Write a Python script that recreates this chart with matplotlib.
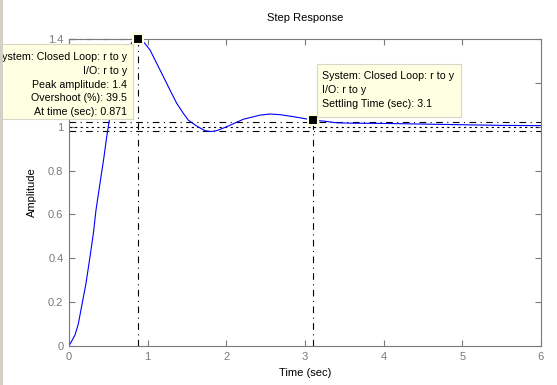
import numpy as np
import matplotlib
matplotlib.use("Agg")
import matplotlib.pyplot as plt
from matplotlib.patches import Rectangle

plt.rcParams['font.family'] = ['Liberation Sans', 'DejaVu Sans']

# step response
t = [0, 0.076, 0.118, 0.16, 0.216, 0.267, 0.31, 0.343, 0.394, 0.445, 0.479, 0.513,
     0.6, 0.7, 0.8, 0.871, 0.945, 1.03, 1.115, 1.2, 1.284, 1.369, 1.453, 1.517,
     1.623, 1.729, 1.8, 1.877, 2.005, 2.216, 2.43, 2.555, 2.68, 2.85, 3.04, 3.1,
     3.25, 3.4, 3.6, 4.0, 4.5, 5.0, 5.5, 6.0]
y = [0, 0.05, 0.10, 0.18, 0.286, 0.407, 0.514, 0.62, 0.742, 0.863, 0.954, 1.03,
     1.18, 1.31, 1.385, 1.40, 1.388, 1.35, 1.289, 1.228, 1.167, 1.107, 1.061, 1.03,
     1.003, 0.982, 0.978, 0.982, 1.0, 1.034, 1.053, 1.058, 1.055, 1.046, 1.034, 1.03,
     1.025, 1.018, 1.016, 1.015, 1.012, 1.009, 1.006, 1.005]

peak_time = 0.871
peak_amp = 1.4
overshoot = 39.5
settle_time = 3.1
settle_amp = 1.03
final_value = 1.0
band = 0.02

xticks = [0, 1, 2, 3, 4, 5, 6]
yticks = [0, 0.2, 0.4, 0.6, 0.8, 1, 1.2, 1.4]
ytick_labels = ['0', '0.2', '0.4', '0.6', '0.8', '1', '1.2', '1.4']

W, H = 557, 385
fig = plt.figure(figsize=(W / 100, H / 100), dpi=100)
ax = fig.add_axes([69 / W, 1 - 346 / H, (541 - 69) / W, (346 - 39) / H])

gray = '#7a7a7a'
ax.set_xlim(0, 6)
ax.set_ylim(0, 1.4)
ax.set_xticks(xticks)
ax.set_yticks(yticks)
ax.set_yticklabels(ytick_labels)
ax.tick_params(direction='in', length=4, width=0.8, colors=gray, labelsize=8,
               top=True, right=True, labelcolor=gray, pad=4)
for s in ax.spines.values():
    s.set_color(gray)
    s.set_linewidth(0.8)

# settling band and final value
ax.axhline(final_value, color='k', lw=0.8, ls=(0, (2, 3)))
ax.axhline(final_value + band, color='k', lw=0.8, ls=(0, (6, 4, 1, 4)))
ax.axhline(final_value - band, color='k', lw=0.8, ls=(0, (6, 4, 1, 4)))

# peak and settling guide lines
ax.plot([peak_time, peak_time], [0, peak_amp], color='k', lw=0.8, ls=(0, (6, 4, 1, 4)), clip_on=False)
ax.plot([0, peak_time], [peak_amp, peak_amp], color='k', lw=0.8, ls=(0, (6, 4, 1, 4)), clip_on=False)
ax.plot([settle_time, settle_time], [0, settle_amp], color='k', lw=0.8, ls=(0, (6, 4, 1, 4)))

ax.plot(t, y, color='#0000ff', lw=0.8)

ax.plot([peak_time], [peak_amp], 's', color='k', ms=7, mec='#ffffe1', mew=1.5, clip_on=False, zorder=5)
ax.plot([settle_time], [settle_amp], 's', color='k', ms=7, mec='#ffffe1', mew=1.5, zorder=5)

ax.set_title('Step Response', fontsize=8, pad=13)
ax.set_xlabel('Time (sec)', fontsize=8, labelpad=5)
ax.set_ylabel('Amplitude', fontsize=8, labelpad=8)

# data tips
def box(x0, y0, x1, y1):
    fig.add_artist(Rectangle((x0 / W, 1 - y1 / H), (x1 - x0) / W, (y1 - y0) / H,
                             transform=fig.transFigure, facecolor='#ffffe1',
                             edgecolor='#d8d8c8', lw=0.8, zorder=10))

box(-5, 44, 133, 119)
peak_lines = ['System: Closed Loop: r to y', 'I/O: r to y',
              'Peak amplitude: %g' % peak_amp, 'Overshoot (%%): %g' % overshoot,
              'At time (sec): %g' % peak_time]
for i, s in enumerate(peak_lines):
    fig.text(127 / W, 1 - (57 + 13.8 * i) / H, s, ha='right', va='center',
             fontsize=7.7, zorder=11)

box(317, 64, 461, 117)
settle_lines = ['System: Closed Loop: r to y', 'I/O: r to y',
                'Settling Time (sec): %g' % settle_time]
for i, s in enumerate(settle_lines):
    fig.text(322 / W, 1 - (76 + 14 * i) / H, s, ha='left', va='center',
             fontsize=7.7, zorder=11)

# grey window edge on the left
fig.add_artist(Rectangle((0, 0), 3 / W, 1, transform=fig.transFigure,
                         facecolor='#d4d0c8', edgecolor='none', zorder=12))

fig.savefig('out.png', dpi=100)
